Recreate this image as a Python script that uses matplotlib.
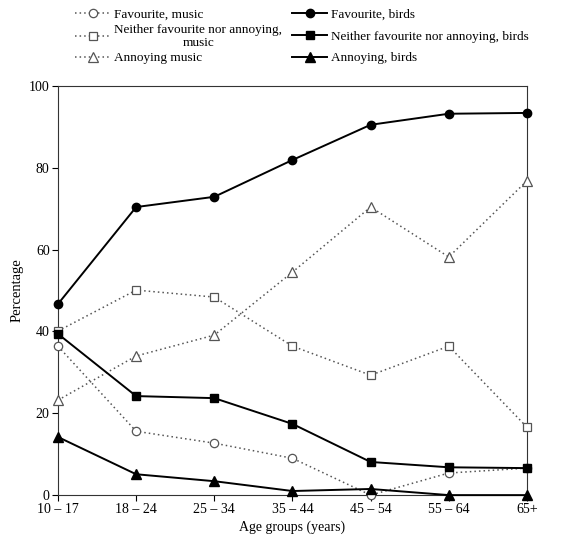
import matplotlib
matplotlib.use("Agg")
import matplotlib.pyplot as plt

plt.rcParams['font.family'] = ['Liberation Serif', 'DejaVu Serif']

age_groups = ["10 – 17", "18 – 24", "25 – 34", "35 – 44", "45 – 54", "55 – 64", "65+"]
fav_music = [36.4, 15.6, 12.7, 9.0, 0.0, 5.4, 6.6]
neither_music = [40.1, 50.1, 48.4, 36.4, 29.3, 36.4, 16.6]
annoy_music = [23.2, 34.0, 39.1, 54.5, 70.4, 58.2, 76.8]
fav_birds = [46.7, 70.4, 72.9, 81.9, 90.5, 93.2, 93.4]
neither_birds = [39.4, 24.2, 23.7, 17.4, 8.1, 6.8, 6.6]
annoy_birds = [14.2, 5.1, 3.4, 1.0, 1.5, 0.0, 0.0]
y_ticks = [0, 20, 40, 60, 80, 100]

fig = plt.figure(figsize=(5.74, 5.37), dpi=100)
ax = fig.add_axes([0.101, 0.078, 0.817, 0.762])
x = list(range(len(age_groups)))

mcol = '#555555'
ms = 6
h1, = ax.plot(x, fav_music, linestyle=(0, (1, 2)), color=mcol, lw=1.1,
              marker='o', mfc='white', mec=mcol, ms=ms, mew=0.9, clip_on=False, zorder=3)
h2, = ax.plot(x, neither_music, linestyle=(0, (1, 2)), color=mcol, lw=1.1,
              marker='s', mfc='white', mec=mcol, ms=ms, mew=0.9, clip_on=False, zorder=3)
h3, = ax.plot(x, annoy_music, linestyle=(0, (1, 2)), color=mcol, lw=1.1,
              marker='^', mfc='white', mec=mcol, ms=ms + 1, mew=0.9, clip_on=False, zorder=3)
h4, = ax.plot(x, fav_birds, linestyle='-', color='black', lw=1.4,
              marker='o', mfc='black', mec='black', ms=ms, clip_on=False, zorder=4)
h5, = ax.plot(x, neither_birds, linestyle='-', color='black', lw=1.4,
              marker='s', mfc='black', mec='black', ms=ms, clip_on=False, zorder=4)
h6, = ax.plot(x, annoy_birds, linestyle='-', color='black', lw=1.4,
              marker='^', mfc='black', mec='black', ms=ms + 1, clip_on=False, zorder=4)

ax.set_xlim(0, len(age_groups) - 1)
ax.set_ylim(0, 100)
ax.set_xticks(x)
ax.set_xticklabels(age_groups, fontsize=10)
ax.set_yticks(y_ticks)
ax.set_yticklabels([str(v) for v in y_ticks], fontsize=10)
ax.tick_params(direction='out', length=4, width=0.8, pad=2)
for s in ax.spines.values():
    s.set_linewidth(0.8)
    s.set_color('#333333')
ax.set_xlabel("Age groups (years)", fontsize=10, labelpad=3)
ax.set_ylabel("Percentage", fontsize=10.5, labelpad=4)

common = dict(frameon=False, fontsize=9.5, handlelength=2.6, handletextpad=0.35, borderpad=0.0)
leg1 = fig.legend([h1, h2, h3],
                  ["Favourite, music", "Neither favourite nor annoying,\nmusic", "Annoying music"],
                  loc='upper left', bbox_to_anchor=(0.12, 0.996), labelspacing=0.2, **common)
leg1.get_texts()[1].set_multialignment('center')
leg2 = fig.legend([h4, h5, h6],
                  ["Favourite, birds", "Neither favourite nor annoying, birds", "Annoying, birds"],
                  loc='upper left', bbox_to_anchor=(0.498, 0.996), labelspacing=0.72, **common)

fig.savefig("out.png", dpi=100)
